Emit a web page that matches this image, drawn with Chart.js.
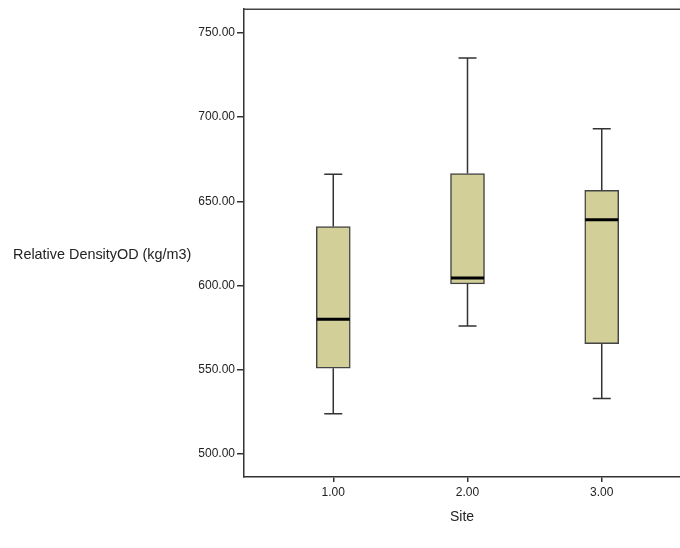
<!DOCTYPE html>
<html>
<head>
<meta charset="utf-8">
<script src="https://cdn.jsdelivr.net/npm/chart.js@4"></script>
<style>
  html, body { margin: 0; padding: 0; background: #fff; overflow: hidden; }
  #wrap { position: relative; width: 680px; height: 548px; }
</style>
</head>
<body>
<div id="wrap"><canvas id="boxChart" width="680" height="548"></canvas></div>
<script>
// data
var sites = [1, 2, 3];
var whiskerLow = [524, 576, 533];
var q1 = [551, 601, 565.5];
var median = [580, 604.5, 639];
var q3 = [635, 666.5, 656.5];
var whiskerHigh = [666, 735, 693];
var yTicks = [500, 550, 600, 650, 700, 750];

var yLabel = 'Relative DensityOD (kg/m3)';
var xLabel = 'Site';

var boxData = sites.map(function(s, i) {
    return { x: s, y: [q1[i], q3[i]] };
});

// whiskers, caps, median and top frame line
var boxPlugin = {
    id: 'boxParts',
    afterDatasetsDraw: function(chart) {
        var ctx = chart.ctx;
        var xs = chart.scales.x;
        var ys = chart.scales.y;
        var area = chart.chartArea;
        ctx.save();
        ctx.strokeStyle = '#333';
        ctx.lineWidth = 1.5;
        sites.forEach(function(s, i) {
            var cx = xs.getPixelForValue(s);
            var capHalf = 9;
            ctx.beginPath();
            ctx.moveTo(cx, ys.getPixelForValue(q3[i]));
            ctx.lineTo(cx, ys.getPixelForValue(whiskerHigh[i]));
            ctx.moveTo(cx - capHalf, ys.getPixelForValue(whiskerHigh[i]));
            ctx.lineTo(cx + capHalf, ys.getPixelForValue(whiskerHigh[i]));
            ctx.moveTo(cx, ys.getPixelForValue(q1[i]));
            ctx.lineTo(cx, ys.getPixelForValue(whiskerLow[i]));
            ctx.moveTo(cx - capHalf, ys.getPixelForValue(whiskerLow[i]));
            ctx.lineTo(cx + capHalf, ys.getPixelForValue(whiskerLow[i]));
            ctx.stroke();
        });
        ctx.strokeStyle = '#000';
        ctx.lineWidth = 3;
        sites.forEach(function(s, i) {
            var cx = xs.getPixelForValue(s);
            var my = ys.getPixelForValue(median[i]);
            ctx.beginPath();
            ctx.moveTo(cx - 16.5, my);
            ctx.lineTo(cx + 16.5, my);
            ctx.stroke();
        });
        // top border of the frame
        ctx.strokeStyle = '#444';
        ctx.lineWidth = 1.5;
        ctx.beginPath();
        ctx.moveTo(area.left - 0.75, area.top);
        ctx.lineTo(area.right, area.top);
        ctx.stroke();
        // horizontal y title like SPSS
        ctx.fillStyle = '#222';
        ctx.font = '14.4px "Liberation Sans", Arial, sans-serif';
        ctx.textAlign = 'left';
        ctx.textBaseline = 'middle';
        ctx.fillText(yLabel, 13, 255);
        ctx.restore();
    }
};

var ctx = document.getElementById('boxChart').getContext('2d');
var chart = new Chart(ctx, {
    type: 'bar',
    data: {
        datasets: [{
            data: boxData,
            backgroundColor: '#d3cf98',
            borderColor: '#444',
            borderWidth: 1.5,
            borderSkipped: false,
            barThickness: 34
        }]
    },
    options: {
        responsive: false,
        animation: false,
        layout: { padding: { left: 184, top: 8, right: 0, bottom: 0 } },
        plugins: {
            legend: { display: false },
            tooltip: { enabled: false }
        },
        scales: {
            x: {
                type: 'linear',
                min: 0.335,
                max: 3.583,
                offset: false,
                afterBuildTicks: function(scale) {
                    scale.ticks = sites.map(function(v) { return { value: v }; });
                },
                afterFit: function(scale) { scale.height = 71; },
                grid: { display: true, drawOnChartArea: false, drawTicks: true, tickLength: 5, offset: false, color: '#333', lineWidth: 1.5 },
                border: { display: true, color: '#333', width: 1.5 },
                ticks: {
                    color: '#222',
                    font: { family: '"Liberation Sans", Arial, sans-serif', size: 12 },
                    padding: 3,
                    maxRotation: 0,
                    callback: function(v) { return Number(v).toFixed(2); }
                },
                title: {
                    display: true,
                    text: xLabel,
                    color: '#222',
                    font: { family: '"Liberation Sans", Arial, sans-serif', size: 14 },
                    padding: { top: 0, bottom: 22 }
                }
            },
            y: {
                type: 'linear',
                min: 486.4,
                max: 764,
                afterBuildTicks: function(scale) {
                    scale.ticks = yTicks.map(function(v) { return { value: v }; });
                },
                afterFit: function(scale) { scale.width = 60; },
                grid: { display: true, drawOnChartArea: false, drawTicks: true, tickLength: 7, color: '#333', lineWidth: 1.5 },
                border: { display: true, color: '#333', width: 1.5 },
                ticks: {
                    color: '#222',
                    font: { family: '"Liberation Sans", Arial, sans-serif', size: 12 },
                    padding: 2,
                    callback: function(v) { return Number(v).toFixed(2); }
                }
            }
        }
    },
    plugins: [boxPlugin]
});
</script>
</body>
</html>
